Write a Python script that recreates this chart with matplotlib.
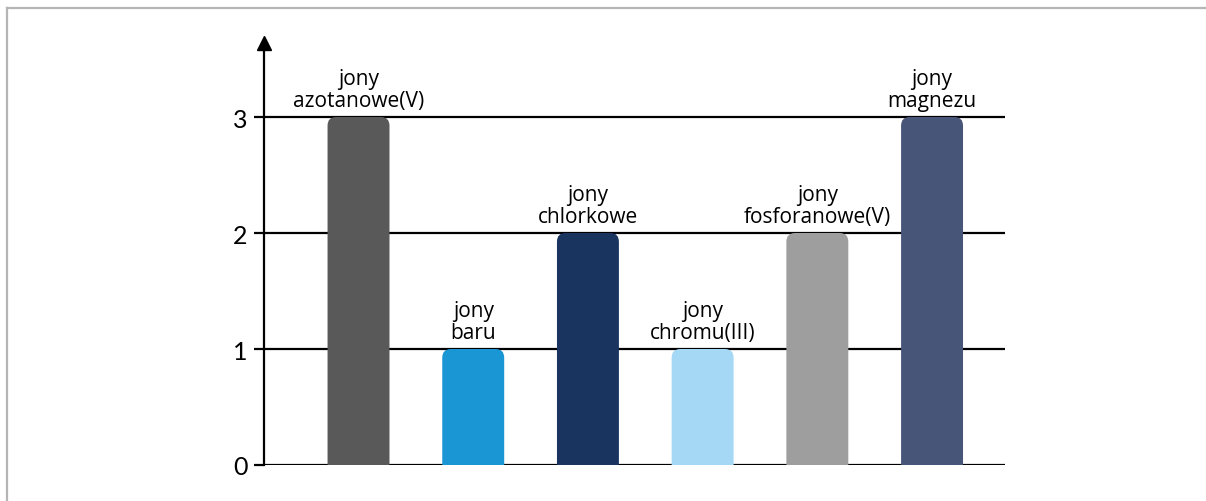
import numpy as np
import matplotlib
matplotlib.use("Agg")
from matplotlib import pyplot as plt
from matplotlib.path import Path
from matplotlib.patches import PathPatch
from matplotlib.lines import Line2D

plt.rcParams['font.family'] = ['Lato', 'DejaVu Sans']

labels = ["jony\nazotanowe(V)", "jony\nbaru", "jony\nchlorkowe",
          "jony\nchromu(III)", "jony\nfosforanowe(V)", "jony\nmagnezu"]
values = [3, 1, 2, 1, 2, 3]
colors = ["#595959", "#1a96d4", "#18345f", "#a5d8f4", "#9e9e9e", "#475579"]
yticks = [0, 1, 2, 3]


def rounded_top(x0, w, h, rx, ry):
    # bar outline with rounded upper corners
    verts = [(x0, 0), (x0 + w, 0), (x0 + w, h - ry),
             (x0 + w, h), (x0 + w - rx, h),
             (x0 + rx, h),
             (x0, h), (x0, h - ry),
             (x0, 0)]
    codes = [Path.MOVETO, Path.LINETO, Path.LINETO,
             Path.CURVE3, Path.CURVE3,
             Path.LINETO,
             Path.CURVE3, Path.CURVE3,
             Path.CLOSEPOLY]
    return Path(verts, codes)


fig = plt.figure(figsize=(12.06, 5.02), dpi=100)
ax = fig.add_axes([264 / 1206, 36 / 502, (1005 - 264) / 1206, (466 - 36.8) / 502])

x = np.arange(len(values))
bars = ax.bar(x, values, width=0.54, color=colors)
ax.set_xlim(-0.824, 5.636)
ax.set_ylim(0, 3.7)

# swap plain rectangles for rounded-top shapes
for b, c in zip(bars, colors):
    b.set_visible(False)
    p = rounded_top(b.get_x(), b.get_width(), b.get_height(), 0.075, 0.075)
    ax.add_patch(PathPatch(p, facecolor=c, edgecolor="none", zorder=3))

for xi, v, lab in zip(x, values, labels):
    ax.annotate(lab, (xi, v), xytext=(0, 4.5), textcoords="offset points",
                ha="center", va="bottom", fontsize=15, linespacing=1.03,
                family=["Open Sans", "DejaVu Sans"])

for t in yticks:
    ax.axhline(t, color="black", lw=1.6, zorder=1)

ax.set_yticks(yticks)
ax.tick_params(axis="y", length=7, width=1.6, pad=5, labelsize=18)
ax.set_xticks([])
for s in ["top", "right", "bottom"]:
    ax.spines[s].set_visible(False)
ax.spines["left"].set_linewidth(1.6)
ax.spines["left"].set_bounds(0, 3.6)
ax.plot([-0.824], [3.64], marker="^", markersize=10, color="black",
        clip_on=False, zorder=5, transform=ax.transData)

# frame lines of the card
fig.add_artist(Line2D([6.5 / 1206, 1], [1 - 8.5 / 502, 1 - 8.5 / 502],
                      color="#b5b5b5", lw=1.6, transform=fig.transFigure))
fig.add_artist(Line2D([6.5 / 1206, 6.5 / 1206], [0, 1 - 8.5 / 502],
                      color="#b5b5b5", lw=1.6, transform=fig.transFigure))

fig.savefig("out.png", dpi=100)
